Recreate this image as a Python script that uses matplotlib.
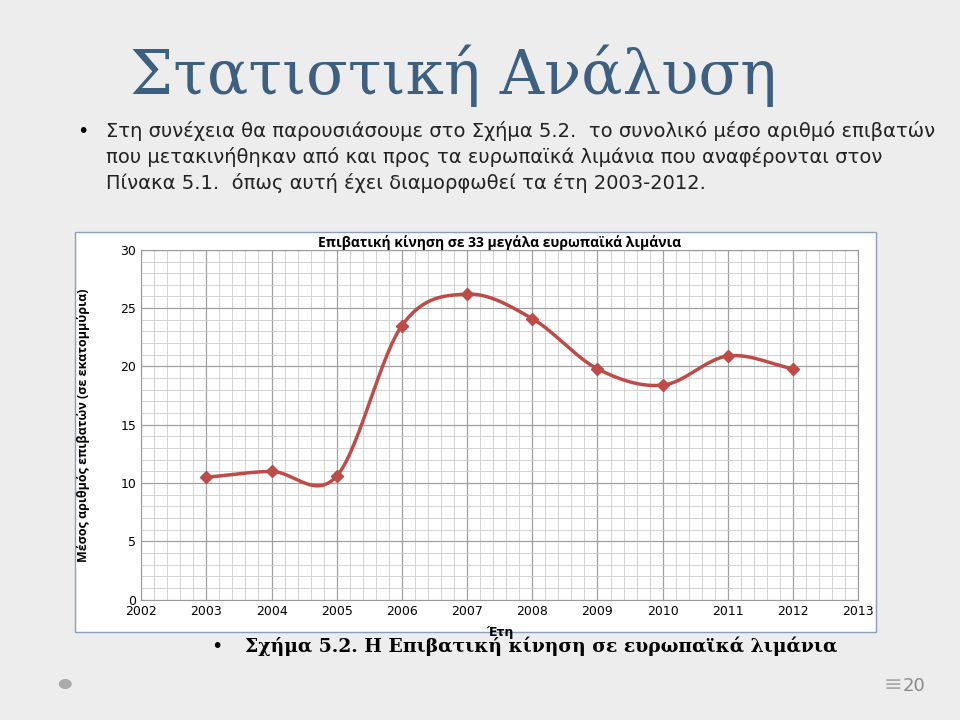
import numpy as np
import matplotlib
matplotlib.use("Agg")
import matplotlib.pyplot as plt
from matplotlib.patches import Rectangle, Circle

years = [2003, 2004, 2005, 2006, 2007, 2008, 2009, 2010, 2011, 2012]
passengers = [10.5, 11.0, 10.6, 23.5, 26.2, 24.1, 19.8, 18.4, 20.9, 19.8]
xticks = list(range(2002, 2014))
yticks = [0, 5, 10, 15, 20, 25, 30]

def smooth(x, y, n=30):
    x = np.asarray(x, float); y = np.asarray(y, float)
    px = np.concatenate([[2*x[0]-x[1]], x, [2*x[-1]-x[-2]]])
    py = np.concatenate([[2*y[0]-y[1]], y, [2*y[-1]-y[-2]]])
    ox, oy = [], []
    for i in range(1, len(px)-2):
        t = np.linspace(0, 1, n)
        for P, out in ((px, ox), (py, oy)):
            p0, p1, p2, p3 = P[i-1], P[i], P[i+1], P[i+2]
            out.extend(0.5*((2*p1) + (-p0+p2)*t + (2*p0-5*p1+4*p2-p3)*t**2 + (-p0+3*p1-3*p2+p3)*t**3))
    return ox, oy

fig = plt.figure(figsize=(9.6, 7.2), dpi=100)
fig.patch.set_facecolor('#ededed')
fig.text(0.135, 0.87, "Στατιστική Ανάλυση", fontsize=44, color='#3d5f80', family='DejaVu Serif')
fig.text(0.08, 0.81, "•", fontsize=14)
fig.text(0.11, 0.81, "Στη συνέχεια θα παρουσιάσουμε στο Σχήμα 5.2.  το συνολικό μέσο αριθμό επιβατών",
         fontsize=14, color='#222222')
fig.text(0.11, 0.774, "που μετακινήθηκαν από και προς τα ευρωπαϊκά λιμάνια που αναφέρονται στον",
         fontsize=14, color='#222222')
fig.text(0.11, 0.738, "Πίνακα 5.1.  όπως αυτή έχει διαμορφωθεί τα έτη 2003-2012.", fontsize=14, color='#222222')

# chart frame
fig.add_artist(Rectangle((0.078, 0.122), 0.834, 0.556, transform=fig.transFigure,
                         facecolor='white', edgecolor='#8aa0b8', lw=1, zorder=0))
ax = fig.add_axes([0.147, 0.167, 0.747, 0.486])
ax.set_zorder(5)
ax.set_facecolor('white')
ax.set_xlim(2002, 2013); ax.set_ylim(0, 30)
ax.set_xticks(xticks); ax.set_yticks(yticks)
ax.set_xticks(np.arange(2002, 2013.01, 0.2), minor=True)
ax.set_yticks(np.arange(0, 30.01, 1), minor=True)
ax.grid(which='major', color='#a0a0a0', lw=0.9)
ax.grid(which='minor', color='#cccccc', lw=0.6)
ax.tick_params(which='both', length=0, labelsize=9)
for s in ax.spines.values():
    s.set_color('#999999')
sx, sy = smooth(years, passengers)
ax.plot(sx, sy, color='#be4b48', lw=2.5)
ax.plot(years, passengers, 'D', color='#be4b48', ms=6)
ax.set_title("Επιβατική κίνηση σε 33 μεγάλα ευρωπαϊκά λιμάνια", fontsize=10, fontweight='bold',
             family='Open Sans', y=0.985)
ax.set_ylabel("Μέσος αριθμός επιβατών (σε εκατομμύρια)", fontsize=9, fontweight='bold', family='Open Sans', labelpad=22)
ax.set_xlabel("Έτη", fontsize=9, fontweight='bold', labelpad=6)

fig.text(0.22, 0.095, "•", fontsize=14)
fig.text(0.255, 0.095, "Σχήμα 5.2. Η Επιβατική κίνηση σε ευρωπαϊκά λιμάνια", fontsize=13.5,
         fontweight='bold', family='DejaVu Serif')
fig.add_artist(Circle((0.068, 0.05), 0.006, transform=fig.transFigure, color='#aaaaaa'))
fig.text(0.92, 0.04, "≡", fontsize=16, color='#aaaaaa')
fig.text(0.94, 0.04, "20", fontsize=13, color='#888888')
fig.savefig("out.png", dpi=100, facecolor=fig.get_facecolor())
